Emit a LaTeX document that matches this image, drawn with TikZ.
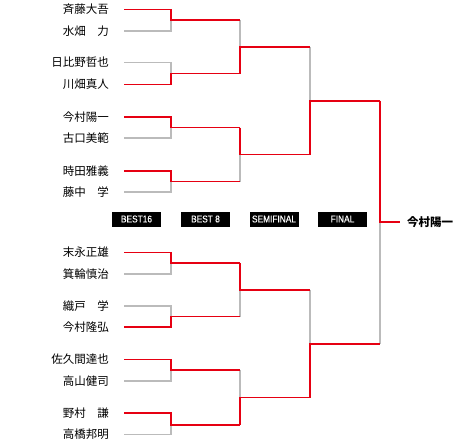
\documentclass[tikz,border=0pt]{standalone}
\usepackage{fontspec}
\setmainfont{Noto Sans CJK JP}
\newfontfamily\labfont[FakeStretch=0.85,FakeBold=0.4]{Liberation Sans}
\definecolor{rd}{HTML}{E60012}
\definecolor{gr}{HTML}{BBBBBB}
\begin{document}
\begin{tikzpicture}[x=1pt,y=-1pt,
  gline/.style={gr, line width=1.3pt},
  rline/.style={rd, line width=1.8pt, line join=miter},
  pname/.style={anchor=east, inner sep=0pt, font=\fontsize{11.5}{12}\selectfont},
  wname/.style={anchor=west, inner sep=0pt, font=\fontsize{11.5}{12}\selectfont\bfseries},
  rlabel/.style={fill=black, text=white, inner sep=0pt, minimum width=49pt, minimum height=15pt, font=\labfont\fontsize{9.8}{10}\selectfont}]
\useasboundingbox (0,0) rectangle (460,442);
% players
\foreach \i/\y/\t in {1/9.5/斉藤大吾, 2/31/水畑　力, 3/62.5/日比野哲也, 4/84.5/川畑真人,
  5/117/今村陽一, 6/138/古口美範, 7/171/時田雅義, 8/192/藤中　学,
  9/252.5/末永正雄, 10/274/箕輪慎治, 11/306/織戸　学, 12/327/今村隆弘,
  13/359.5/佐久間達也, 14/381/高山健司, 15/413/野村　謙, 16/434.5/高橋邦明} {
  \node[pname] (n\i) at (109,\y) {\t};
  \coordinate (s\i) at (124,\y);
  \coordinate (t\i) at (171,\y);
}
% round 1 junctions
\foreach \j/\y in {1/20.25, 2/73.5, 3/127.5, 4/181.5, 5/263.25, 6/316.5, 7/370.25, 8/424.75} {
  \coordinate (c\j) at (171,\y);
  \coordinate (d\j) at (240,\y);
}
% round 2 junctions
\foreach \j/\y in {1/46.9, 2/154.5, 3/289.9, 4/397.5} {
  \coordinate (e\j) at (240,\y);
  \coordinate (f\j) at (310,\y);
}
% semifinal junctions
\coordinate (g1) at (310,100.7);
\coordinate (h1) at (380,100.7);
\coordinate (g2) at (310,343.7);
\coordinate (h2) at (380,343.7);
% final
\coordinate (k) at (380,222.2);
\coordinate (w) at (400,222.2);
% grey (losing) lines
\draw[gline] (s2) -- (t2) -- (c1);
\draw[gline] (s3) -- (t3) -- (c2);
\draw[gline] (s6) -- (t6) -- (c3);
\draw[gline] (s8) -- (t8) -- (c4);
\draw[gline] (s10) -- (t10) -- (c5);
\draw[gline] (s11) -- (t11) -- (c6);
\draw[gline] (s14) -- (t14) -- (c7);
\draw[gline] (s16) -- (t16) -- (c8);
\draw[gline] (d1) -- (e1);
\draw[gline] (d4) -- (e2);
\draw[gline] (d6) -- (e3);
\draw[gline] (d7) -- (e4);
\draw[gline] (f1) -- (g1);
\draw[gline] (f3) -- (g2);
\draw[gline] (h2) -- (k);
% red (winning) lines
\draw[rline] (s1) -- (t1) -- (c1) -- (d1);
\draw[rline] (s4) -- (t4) -- (c2) -- (d2);
\draw[rline] (s5) -- (t5) -- (c3) -- (d3);
\draw[rline] (s7) -- (t7) -- (c4) -- (d4);
\draw[rline] (s9) -- (t9) -- (c5) -- (d5);
\draw[rline] (s12) -- (t12) -- (c6) -- (d6);
\draw[rline] (s13) -- (t13) -- (c7) -- (d7);
\draw[rline] (s15) -- (t15) -- (c8) -- (d8);
\draw[rline] (d2) -- (e1) -- (f1);
\draw[rline] (d3) -- (e2) -- (f2);
\draw[rline] (d5) -- (e3) -- (f3);
\draw[rline] (d8) -- (e4) -- (f4);
\draw[rline] (f2) -- (g1) -- (h1);
\draw[rline] (f4) -- (g2) -- (h2);
\draw[rline] (h1) -- (k) -- (w);
% winner
\node[wname] (champ) at (407,222.2) {今村陽一};
% round labels
\node[rlabel] (lb16) at (136.5,219) {BEST16};
\node[rlabel] (lb8) at (205.5,219) {BEST 8};
\node[rlabel] (lbsf) at (274,219) {SEMIFINAL};
\node[rlabel] (lbf) at (342.5,219) {FINAL};
\end{tikzpicture}
\end{document}
